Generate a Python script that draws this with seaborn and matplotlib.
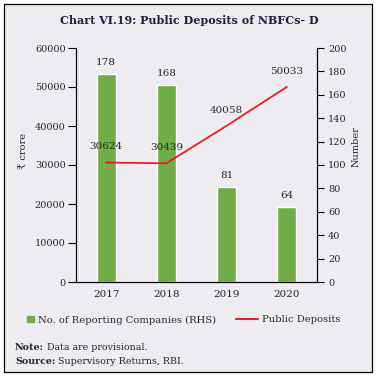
import numpy as np, pandas as pd
import matplotlib
matplotlib.use("Agg")
import matplotlib.pyplot as plt
import seaborn as sns
from matplotlib.patches import Rectangle, Patch
from matplotlib.lines import Line2D

# data
years = ["2017", "2018", "2019", "2020"]
companies = [178, 168, 81, 64]            # RHS, bars
deposits = [30624, 30439, 40058, 50033]   # LHS, line (Rs crore)

BG = "#EFECF1"
GREEN = "#70AD47"
RED = "#EE1C25"

sns.set_theme(style="white")
plt.rcParams["font.family"] = ["DejaVu Serif", "DejaVu Sans"]
plt.rcParams["font.size"] = 7

df = pd.DataFrame({"year": years, "companies": companies, "deposits": deposits})

fig = plt.figure(figsize=(3.79, 3.78), dpi=100)
fig.patch.set_facecolor("white")
W, H = 379, 378
fig.add_artist(Rectangle((4 / W, 6 / H), 368 / W, 368 / H, transform=fig.transFigure,
                         facecolor=BG, edgecolor="black", lw=0.9, zorder=-10))

ax = fig.add_axes([76 / W, 96 / H, 241 / W, 234 / H])
ax2 = ax.twinx()

# bars on right axis
sns.barplot(data=df, x="year", y="companies", color=GREEN, width=0.315,
            saturation=1, ax=ax2, order=years)
ax2.bar_label(ax2.containers[0], labels=[str(v) for v in companies], padding=5, fontsize=7.5)

# line on left axis, drawn above bars
ax.set_zorder(ax2.get_zorder() + 1)
ax.patch.set_visible(False)
ax2.patch.set_visible(False)
pos = np.arange(len(years))
sns.lineplot(x=pos, y=deposits, color=RED, lw=1.3, ax=ax)
for xi, v in zip(pos, deposits):
    ax.annotate(str(v), (xi, v), xytext=(0, 8), textcoords="offset points",
                ha="center", va="bottom", fontsize=7.5)

ax.set_xlim(-0.5, 3.5)
ax.set_ylim(0, 60000)
ax.set_yticks(np.arange(0, 60001, 10000))
ax2.set_ylim(0, 200)
ax2.set_yticks(np.arange(0, 201, 20))

ax.set_xticks(pos)
ax.set_xticklabels(years)
ax.set_xticks([-0.5, 0.5, 1.5, 2.5, 3.5], minor=True)
ax.tick_params(axis="x", which="major", length=0, pad=6, labelsize=7.5)
ax.tick_params(axis="x", which="minor", length=4, width=0.8, direction="out", color="black")
ax.tick_params(axis="y", length=6, width=0.8, direction="out", pad=1.5, labelsize=7, color="black")
ax2.tick_params(axis="y", length=5, width=0.8, direction="out", pad=3, labelsize=7, color="black")
ax2.set_xlabel("")
ax.set_xlabel("")

for a in (ax, ax2):
    a.spines["top"].set_visible(False)
    for s in ("left", "right", "bottom"):
        a.spines[s].set_color("black")
        a.spines[s].set_linewidth(0.8)

ax.set_ylabel("\u20b9 crore", fontsize=7)
ax.yaxis.set_label_coords(-0.2, 0.56)
ax2.set_ylabel("Number", fontsize=7, rotation=90)
ax2.yaxis.set_label_coords(1.142, 0.58)

fig.text(189 / W, 1 - 20.5 / H, "Chart VI.19: Public Deposits of NBFCs- D",
         ha="center", va="center", fontsize=8, fontweight="bold", color="#1f1f3a")

# legends
fig.legend(handles=[Patch(facecolor=GREEN, edgecolor=GREEN)],
           labels=["No. of Reporting Companies (RHS)"], loc="center left",
           bbox_to_anchor=(27 / W, 1 - 320 / H), frameon=False, fontsize=7.2,
           handlelength=0.65, handleheight=0.65, handletextpad=0.4,
           borderpad=0, borderaxespad=0)
fig.legend(handles=[Line2D([0], [0], color=RED, lw=1.5)], labels=["Public Deposits"],
           loc="center left", bbox_to_anchor=(236 / W, 1 - 320 / H), frameon=False,
           fontsize=7.2, handlelength=2.2, handletextpad=0.4, borderpad=0, borderaxespad=0)

# notes: bold lead-in, plain rest
notes = [("Note:", " Data are provisional.", 347.5), ("Source:", " Supervisory Returns, RBI.", 361)]
fig.canvas.draw()
r = fig.canvas.get_renderer()
for lead, rest, ypx in notes:
    tb = fig.text(15 / W, 1 - ypx / H, lead, fontweight="bold", fontsize=6.8, va="center")
    bb = tb.get_window_extent(r)
    fig.text(bb.x1 / W, 1 - ypx / H, rest, fontsize=6.8, va="center")

fig.savefig("out.png", dpi=100, facecolor="white")
